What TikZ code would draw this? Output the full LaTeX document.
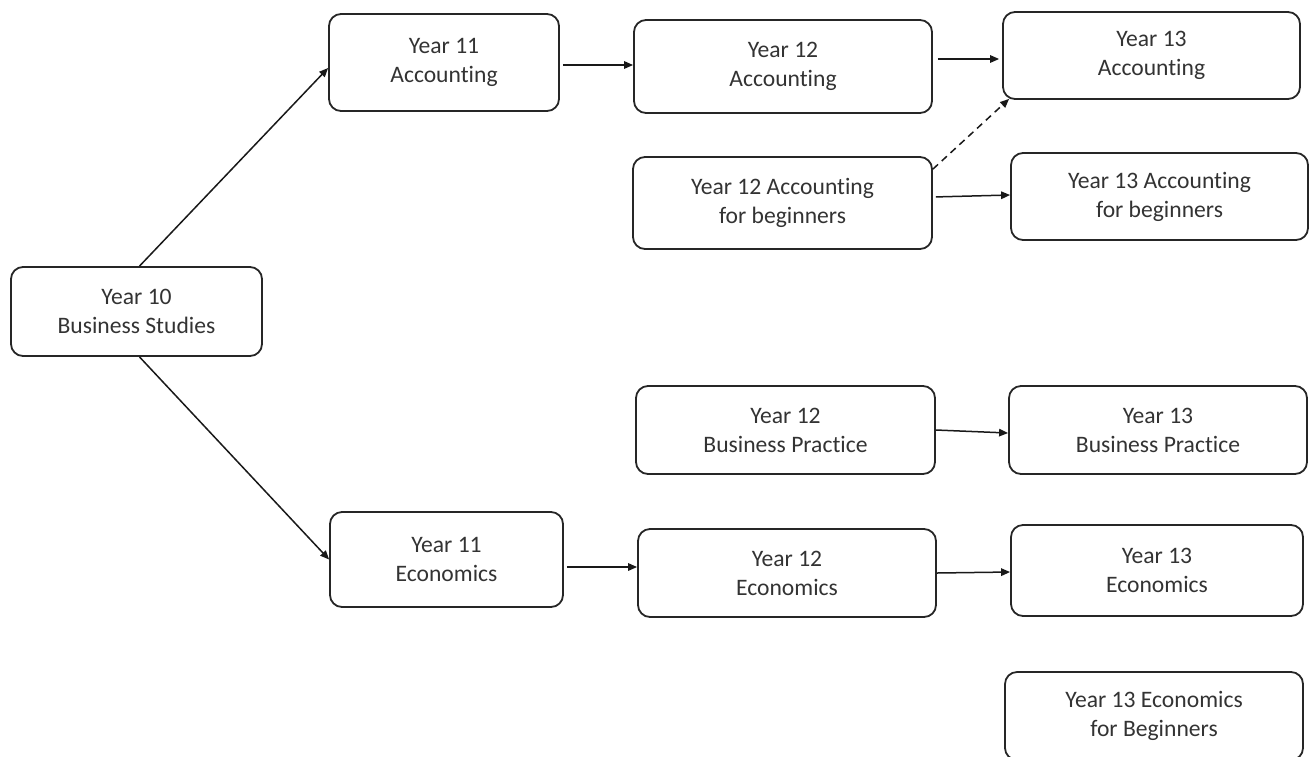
\documentclass[tikz,border=0pt]{standalone}
\usepackage{fontspec}
\setmainfont{Carlito}[Ligatures=NoCommon]
\usetikzlibrary{arrows.meta}
\begin{document}
\begin{tikzpicture}[x=1pt,y=-1pt,
  box/.style={draw=black!85, line width=1.8pt, rounded corners=12pt, align=center,
    inner sep=0pt, text=black!80, font=\fontsize{23.6}{29}\selectfont},
  conn/.style={draw=black!90, line width=1.5pt, -{Triangle[length=9pt,width=7.5pt]}},
]
\useasboundingbox (0,0) rectangle (1316,756);
\node[box, minimum width=251pt, minimum height=89pt] (y10) at (136.5,311.5) {Year 10\\Business Studies};
\node[box, minimum width=230pt, minimum height=97pt] (y11a) at (444,62.5) {Year 11\\Accounting};
\node[box, minimum width=298pt, minimum height=93pt] (y12a) at (783,66.5) {Year 12\\Accounting};
\node[box, minimum width=297pt, minimum height=87pt] (y13a) at (1151.5,55.5) {Year 13\\Accounting};
\node[box, minimum width=299pt, minimum height=92pt] (y12b) at (782.5,203) {Year 12 Accounting\\for beginners};
\node[box, minimum width=297pt, minimum height=87pt] (y13b) at (1159.5,196.5) {Year 13 Accounting\\for beginners};
\node[box, minimum width=299pt, minimum height=88pt] (y12p) at (785.5,430) {Year 12\\Business Practice};
\node[box, minimum width=298pt, minimum height=88pt] (y13p) at (1158,430) {Year 13\\Business Practice};
\node[box, minimum width=233pt, minimum height=95pt] (y11e) at (446.5,559.5) {Year 11\\Economics};
\node[box, minimum width=298pt, minimum height=88pt] (y12e) at (787,573) {Year 12\\Economics};
\node[box, minimum width=292pt, minimum height=91pt] (y13e) at (1157,570.5) {Year 13\\Economics};
\node[box, minimum width=298pt, minimum height=88pt] (y13eb) at (1154,716) {Year 13 Economics\\for Beginners};

\draw[conn] ([xshift=3pt]y10.north) -- ([yshift=-5.5pt]y11a.west);
\draw[conn] ([xshift=3pt]y10.south) -- (y11e.west);
\draw[conn, shorten <=3pt] ([yshift=1.5pt]y12a.west -| y11a.east) -- ([yshift=1.5pt]y12a.west);
\draw[conn, shorten <=5pt, shorten >=3pt] ([yshift=-3.5pt]y13a.west -| y12a.east) -- ([yshift=-3.5pt]y13a.west);
\draw[conn, dash pattern=on 7pt off 5pt] ([yshift=-13pt]y12b.north east) -- ([xshift=7pt,yshift=1pt]y13a.south west);
\draw[conn, shorten <=3pt] ([yshift=6pt]y12b.east) -- ([yshift=1.5pt]y13b.west);
\draw[conn] (y12p.east) -- ([yshift=-3pt]y13p.west);
\draw[conn, shorten <=3pt] ([yshift=-7.5pt]y11e.east) -- ([yshift=6pt]y12e.west);
\draw[conn] (y12e.east) -- ([yshift=-1.5pt]y13e.west);
\end{tikzpicture}
\end{document}
